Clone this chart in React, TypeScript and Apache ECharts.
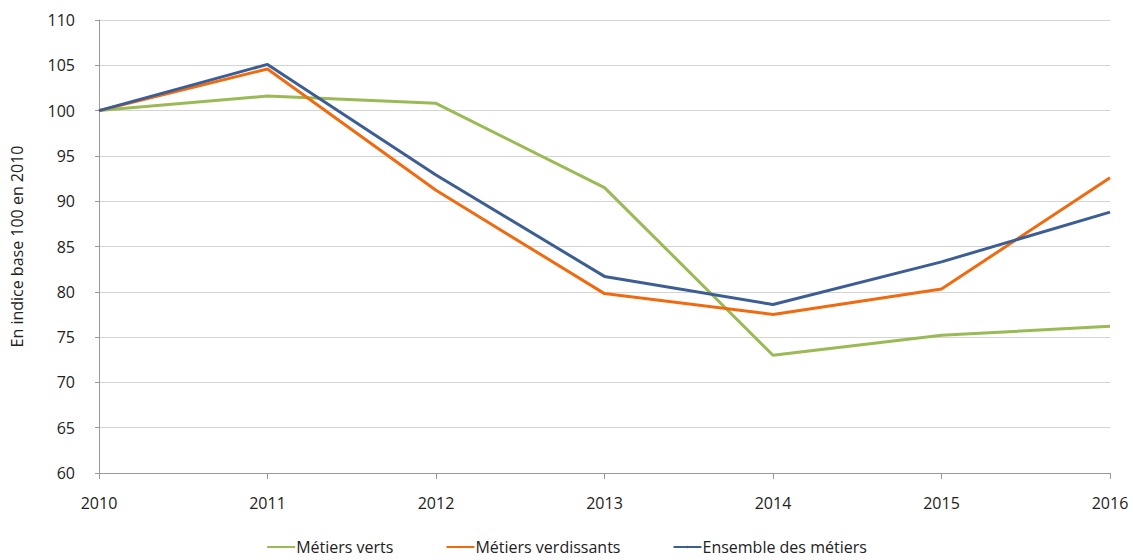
import React, { useEffect, useRef } from "react";
import * as echarts from "echarts";

const years = ["2010", "2011", "2012", "2013", "2014", "2015", "2016"];
const metiersVerts = [100, 101.6, 100.8, 91.5, 73.0, 75.2, 76.2];
const metiersVerdissants = [100, 104.6, 91.2, 79.8, 77.5, 80.3, 92.6];
const ensembleMetiers = [100, 105.1, 92.9, 81.7, 78.6, 83.3, 88.8];
const yTicks = { min: 60, max: 110, interval: 5 };

const FONT = "Open Sans";

export default function App() {
  const ref = useRef<HTMLDivElement>(null);
  useEffect(() => {
    if (!ref.current) return;
    const chart = echarts.init(ref.current, undefined, { renderer: "svg" });
    const mk = (name: string, data: number[], color: string) => ({
      name,
      type: "line",
      data,
      symbol: "none",
      lineStyle: { color, width: 3 },
      itemStyle: { color },
    });
    chart.setOption({
      animation: false,
      backgroundColor: "#ffffff",
      textStyle: { fontFamily: FONT },
      grid: { left: 99, right: 23, top: 20, bottom: 87 },
      legend: {
        bottom: 0,
        left: "center",
        itemWidth: 28,
        itemHeight: 3,
        itemGap: 52,
        textStyle: { fontFamily: FONT, fontSize: 16, color: "#222", padding: [0, 0, 0, -4] },
        data: ["Métiers verts", "Métiers verdissants", "Ensemble des métiers"],
      },
      xAxis: {
        type: "category",
        data: years,
        boundaryGap: false,
        axisLine: { lineStyle: { color: "#999" } },
        axisTick: { show: true, lineStyle: { color: "#999" }, length: 6 },
        axisLabel: { fontFamily: FONT, fontSize: 16, color: "#222", margin: 22 },
      },
      yAxis: {
        type: "value",
        min: yTicks.min,
        max: yTicks.max,
        interval: yTicks.interval,
        name: "En indice base 100 en 2010",
        nameLocation: "middle",
        nameGap: 74,
        nameTextStyle: { fontFamily: FONT, fontSize: 16, color: "#222" },
        axisLine: { show: true, lineStyle: { color: "#999" } },
        axisTick: { show: true, length: 4, lineStyle: { color: "#999" } },
        axisLabel: { fontFamily: FONT, fontSize: 16, color: "#222", margin: 24 },
        splitLine: { lineStyle: { color: "#d4d4d4" } },
      },
      series: [
        mk("Métiers verts", metiersVerts, "#9aba55"),
        mk("Métiers verdissants", metiersVerdissants, "#f06a0f"),
        mk("Ensemble des métiers", ensembleMetiers, "#3c5e95"),
      ],
    });
    return () => chart.dispose();
  }, []);
  return <div ref={ref} style={{ width: 1133, height: 560, position: "absolute", left: 0, top: 0 }} />;
}
